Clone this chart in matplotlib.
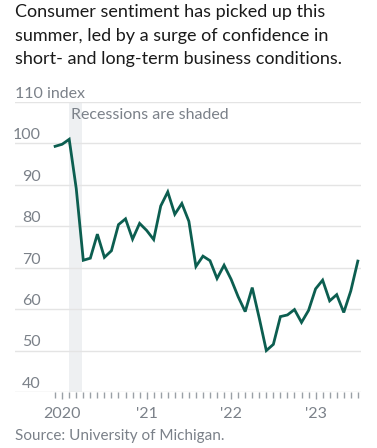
import numpy as np
import matplotlib
matplotlib.use('Agg')
import matplotlib.pyplot as plt
from matplotlib import transforms

plt.rcParams['font.family'] = ['Lato', 'DejaVu Sans']

# monthly index, Dec 2019 .. Jul 2023 (month 0 = Jan 2020)
months = np.arange(-1, 43)
sentiment = [99.3, 99.8, 101.0, 89.1, 71.8, 72.3, 78.1, 72.5, 74.1, 80.4, 81.8, 76.9, 80.7,
             79.0, 76.8, 84.9, 88.3, 82.9, 85.5, 81.2, 70.3, 72.8, 71.7, 67.4, 70.6,
             67.2, 63.0, 59.4, 65.2, 57.8, 50.0, 51.5, 58.2, 58.6, 59.9, 56.8, 59.7,
             64.9, 67.0, 62.0, 63.5, 59.2, 64.4, 71.6]
recession = (1.0, 2.8)
yticks = [40, 50, 60, 70, 80, 90, 100]
year_pos = [0, 12, 24, 36]
year_labels = ['2020', "'21", "'22", "'23"]

grey = '#7b8189'
fig = plt.figure(figsize=(3.77, 4.48), dpi=100)
ax = fig.add_axes([15/377, 1-392/448, 346/377, 290/448])
ax.set_xlim(-6.7, 42.45)
ax.set_ylim(40, 110)

ax.axvspan(recession[0], recession[1], ymin=0, ymax=0.995, color='#eef0f2', lw=0, zorder=0)
for v in yticks[1:] + [110]:
    ax.axhline(v, color='#e4e4e4', lw=1, zorder=1)
ax.axhline(40, color='#dcdcdc', lw=1, zorder=1)

ax.plot(months, sentiment, color='#0c5e50', lw=2, zorder=3, solid_joinstyle='miter')

lab_tr = transforms.offset_copy(transforms.blended_transform_factory(ax.transAxes, ax.transData),
                                fig=fig, x=0, y=0.8, units='points')
for v in yticks:
    ax.text(25.7/346, v, str(v), transform=lab_tr, ha='right', va='bottom', fontsize=11.5, color=grey)
ax.text(0, 110, '110 index', transform=lab_tr, ha='left', va='bottom', fontsize=11.5, color=grey)
ax.text(recession[0] + 0.2, 108.6, 'Recessions are shaded', ha='left', va='top', fontsize=11.5,
        color=grey, zorder=2)

for s in ax.spines.values():
    s.set_visible(False)
ax.set_yticks([])
ax.set_xticks(year_pos)
ax.set_xticklabels(year_labels, fontsize=11.5, color=grey)
ax.set_xticks(months, minor=True)
ax.tick_params(axis='x', which='both', length=4, width=1, color='#9aa0a6', pad=6)
ax.tick_params(axis='x', which='major', length=5)

fig.text(15/377, 1-4/448, 'Consumer sentiment has picked up this\nsummer, led by a surge of confidence in\nshort- and long-term business conditions.',
         ha='left', va='top', fontsize=13, color='#1a1a1a', linespacing=1.58)
fig.text(15/377, 1-443/448, 'Source: University of Michigan.', ha='left', va='bottom',
         fontsize=11, color=grey)

plt.savefig('out.png', dpi=100)
